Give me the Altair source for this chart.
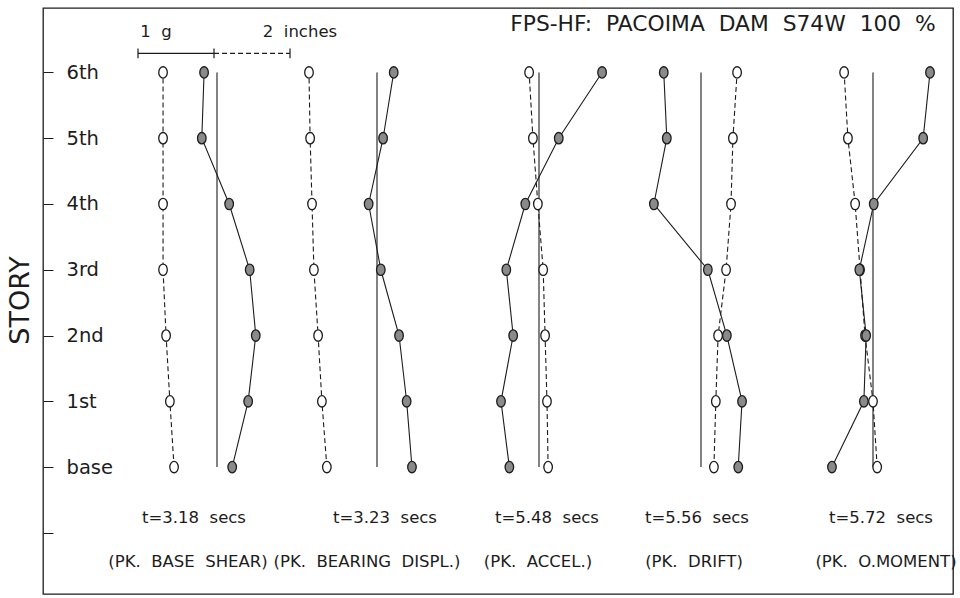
import altair as alt
import pandas as pd

# ---------------- data ----------------
story_names = ["base", "1st", "2nd", "3rd", "4th", "5th", "6th"]
story_levels = [0, 1, 2, 3, 4, 5, 6]

time_labels = ["t=3.18\u00a0 secs", "t=3.23\u00a0 secs", "t=5.48\u00a0 secs",
               "t=5.56\u00a0 secs", "t=5.72\u00a0 secs"]
case_labels = ["(PK.\u00a0 BASE\u00a0 SHEAR)", "(PK.\u00a0 BEARING\u00a0 DISPL.)",
               "(PK.\u00a0 ACCEL.)", "(PK.\u00a0 DRIFT)", "(PK.\u00a0 O.MOMENT)"]

# floor displacement profiles (inches), base -> 6th, dashed / open circles
disp_in = [
    [-1.13, -1.24, -1.34, -1.42, -1.42, -1.42, -1.42],
    [-1.32, -1.45, -1.55, -1.66, -1.71, -1.76, -1.79],
    [0.24, 0.21, 0.16, 0.11, -0.03, -0.16, -0.26],
    [0.34, 0.39, 0.45, 0.66, 0.79, 0.84, 0.95],
    [0.11, 0.00, -0.21, -0.34, -0.47, -0.66, -0.76],
]
# floor acceleration profiles (g), base -> 6th, solid / filled circles
accel_g = [
    [0.20, 0.41, 0.51, 0.43, 0.16, -0.20, -0.17],
    [0.46, 0.39, 0.29, 0.05, -0.11, 0.08, 0.22],
    [-0.39, -0.50, -0.34, -0.43, -0.18, 0.26, 0.83],
    [0.49, 0.54, 0.34, 0.09, -0.62, -0.45, -0.49],
    [-0.54, -0.12, -0.09, -0.18, 0.01, 0.66, 0.75],
]

title_text = "FPS-HF:\u00a0 PACOIMA\u00a0 DAM\u00a0 S74W\u00a0 100\u00a0 %"

# ---------------- layout (horizontal page units) ----------------
panel_zero = [217, 377, 539, 701, 873]      # zero line of each snapshot
time_center = [194, 385, 547, 697, 881]
case_center = [188, 367, 538, 694, 886]
PX_PER_G = 76.0          # 1 g  scale bar length
PX_PER_IN = 38.0         # 2 inches = 76
bar_start = 138
bar_level = 6.29

INK = "#1c1c1c"
FONT = "DejaVu Sans"
ELLIPSE = "M0,-1A0.75,1 0 1,1 0,1A0.75,1 0 1,1 0,-1Z"

rows = []
for p in range(5):
    for lv, d, a in zip(story_levels, disp_in[p], accel_g[p]):
        rows.append({"panel": p, "level": lv, "series": "disp",
                     "pos": panel_zero[p] + d * PX_PER_IN})
        rows.append({"panel": p, "level": lv, "series": "accel",
                     "pos": panel_zero[p] + a * PX_PER_G})
prof = pd.DataFrame(rows)
disp_df = prof[prof.series == "disp"]
acc_df = prof[prof.series == "accel"]

zero_df = pd.DataFrame({"pos": panel_zero, "level": [0] * 5, "level2": [6] * 5})

ann_rows = []
for p in range(5):
    ann_rows.append({"text": time_labels[p], "pos": time_center[p], "level": -0.78, "fs": 16.5})
    ann_rows.append({"text": case_labels[p], "pos": case_center[p], "level": -1.45, "fs": 16.5})
ann_rows.append({"text": "1\u00a0 g", "pos": bar_start + 18, "level": 6.61, "fs": 16.5})
ann_rows.append({"text": "2\u00a0 inches", "pos": bar_start + PX_PER_G + 86, "level": 6.61, "fs": 16.5})
ann_rows.append({"text": title_text, "pos": 723, "level": 6.74, "fs": 21.8})
ann = pd.DataFrame(ann_rows)

g_end = bar_start + PX_PER_G
in_end = g_end + 2 * PX_PER_IN
bar_solid = pd.DataFrame({"pos": [bar_start], "pos2": [g_end], "level": [bar_level], "level2": [bar_level]})
bar_dash = pd.DataFrame({"pos": [g_end], "pos2": [in_end], "level": [bar_level], "level2": [bar_level]})
bar_ticks = pd.DataFrame({"pos": [bar_start, g_end, in_end], "pos2": [bar_start, g_end, in_end],
                          "level": [bar_level - 0.075] * 3, "level2": [bar_level + 0.075] * 3})

# ---------------- encodings ----------------
label_expr = "[" + ",".join("'%s'" % s for s in story_names) + "][datum.value] || ''"

xscale = alt.Scale(domain=[43, 953], nice=False, zero=False)
yscale = alt.Scale(domain=[-1.93, 6.98], nice=False, zero=False)
yaxis = alt.Axis(values=[-1, 0, 1, 2, 3, 4, 5, 6], labelExpr=label_expr,
                 orient="left", offset=-10, tickSize=10, tickColor=INK, tickWidth=1,
                 domain=False, grid=False, labelAlign="left", labelPadding=-23,
                 labelFont=FONT, labelFontSize=19.5, labelColor=INK, labelBaseline="middle",
                 title="STORY", titleFont=FONT, titleFontSize=27, titleFontWeight="normal",
                 titleColor=INK, titleX=-33, titleY=292, titleAngle=270,
                 titleAlign="center", titleBaseline="middle")

X = alt.X("pos:Q", scale=xscale, axis=None)
Y = alt.Y("level:Q", scale=yscale, axis=yaxis)

zero_lines = alt.Chart(zero_df).mark_rule(color=INK, strokeWidth=1.1).encode(
    x=X, y=Y, y2="level2:Q")

disp_line = alt.Chart(disp_df).mark_line(color=INK, strokeWidth=1.1, strokeDash=[5, 3]).encode(
    x=X, y=Y, detail="panel:N", order="level:Q")
acc_line = alt.Chart(acc_df).mark_line(color=INK, strokeWidth=1.1).encode(
    x=X, y=Y, detail="panel:N", order="level:Q")

disp_pts = alt.Chart(disp_df).mark_point(shape=ELLIPSE, filled=True, fill="white",
                                         stroke=INK, strokeWidth=1.3, size=130, opacity=1).encode(x=X, y=Y)
acc_pts = alt.Chart(acc_df).mark_point(shape=ELLIPSE, filled=True, fill="#8a8a8a",
                                       stroke=INK, strokeWidth=1.3, size=130, opacity=1).encode(x=X, y=Y)

bar1 = alt.Chart(bar_solid).mark_rule(color=INK, strokeWidth=1.2).encode(
    x=X, x2="pos2:Q", y=Y, y2="level2:Q")
bar2 = alt.Chart(bar_dash).mark_rule(color=INK, strokeWidth=1.2, strokeDash=[5, 3]).encode(
    x=X, x2="pos2:Q", y=Y, y2="level2:Q")
bar3 = alt.Chart(bar_ticks).mark_rule(color=INK, strokeWidth=1.2).encode(
    x=X, x2="pos2:Q", y=Y, y2="level2:Q")

texts = alt.Chart(ann).mark_text(font=FONT, color=INK, align="center", baseline="middle").encode(
    x=X, y=Y, text="text:N", size=alt.Size("fs:Q", scale=None, legend=None))

chart = alt.layer(zero_lines, disp_line, acc_line, disp_pts, acc_pts,
                  bar1, bar2, bar3, texts).properties(
    width=910, height=586,
    autosize=alt.AutoSizeParams(type="none"),
    padding={"left": 43, "top": 8, "right": 7, "bottom": 4},
    background="white",
).configure_view(stroke=INK, strokeWidth=1.3)

chart.save("out.html", embed_options={"renderer": "svg", "actions": False})
